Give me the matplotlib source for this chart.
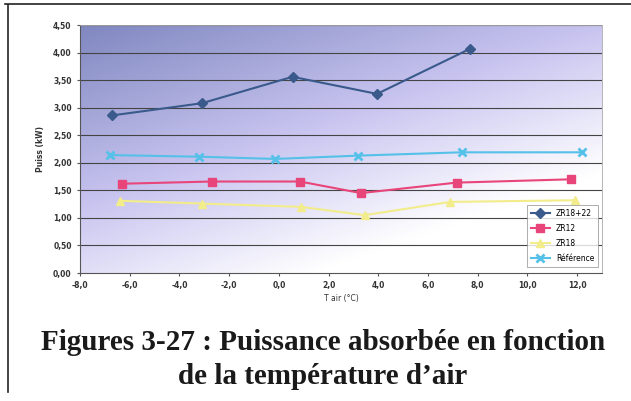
import matplotlib
matplotlib.use("Agg")
import matplotlib.pyplot as plt
import numpy as np
from matplotlib.ticker import FuncFormatter

# Data
zr1822_x = [-6.7, -3.1, 0.55, 3.95, 7.7]
zr1822_y = [2.86, 3.08, 3.56, 3.25, 4.07]
zr12_x = [-6.3, -2.7, 0.85, 3.3, 7.15, 11.75]
zr12_y = [1.62, 1.66, 1.66, 1.45, 1.64, 1.70]
zr18_x = [-6.4, -3.1, 0.9, 3.45, 6.9, 11.9]
zr18_y = [1.31, 1.26, 1.20, 1.05, 1.29, 1.32]
ref_x = [-6.8, -3.2, -0.15, 3.2, 7.35, 12.2]
ref_y = [2.14, 2.11, 2.07, 2.13, 2.19, 2.19]

series_names = ["ZR18+22", "ZR12", "ZR18", "Référence"]
x_ticks = [-8, -6, -4, -2, 0, 2, 4, 6, 8, 10, 12]
y_ticks = [0, 0.5, 1, 1.5, 2, 2.5, 3, 3.5, 4, 4.5]

fig = plt.figure(figsize=(6.31, 4.01), dpi=100)
ax = fig.add_axes([80/631, 1-273/401, (602-80)/631, (273-25)/401])

# gradient background
ny, nx = 100, 160
yy, xx = np.mgrid[0:1:ny*1j, 0:1:nx*1j]  # yy 0 at top
t = np.clip(0.55*xx + 0.75*yy, 0, 1.0)
c_dark = np.array([0x80, 0x88, 0xc0]) / 255
c_mid = np.array([0xc8, 0xc4, 0xf0]) / 255
c_light = np.array([1.0, 1.0, 1.0])
img = np.zeros((ny, nx, 3))
for i in range(3):
    img[..., i] = np.interp(t, [0, 0.55, 1.0], [c_dark[i], c_mid[i], c_light[i]])
ax.imshow(img, extent=[-8, 13, 0, 4.5], aspect='auto', zorder=0, origin='upper')

ax.set_xlim(-8, 13)
ax.set_ylim(0, 4.5)
for yv in y_ticks[1:]:
    ax.axhline(yv, color='#444444', lw=0.8, zorder=1)

ax.plot(zr1822_x, zr1822_y, color='#3a5a8c', marker='D', ms=5, lw=1.5, label=series_names[0], zorder=3)
ax.plot(zr12_x, zr12_y, color='#e8457a', marker='s', ms=6, lw=1.5, label=series_names[1], zorder=3)
ax.plot(zr18_x, zr18_y, color='#f2ec8a', marker='^', ms=6, lw=1.5, label=series_names[2], zorder=3)
ax.plot(ref_x, ref_y, color='#55c0e8', marker='x', ms=6, mew=2, lw=1.5, label=series_names[3], zorder=3)

ax.set_xticks(x_ticks)
ax.set_yticks(y_ticks)
ax.xaxis.set_major_formatter(FuncFormatter(lambda v, p: f"{v:.1f}".replace('.', ',')))
ax.yaxis.set_major_formatter(FuncFormatter(lambda v, p: f"{v:.2f}".replace('.', ',')))
ax.tick_params(labelsize=5.5, length=2, color='#555555', pad=4)
for lbl in ax.get_xticklabels() + ax.get_yticklabels():
    lbl.set_fontweight('bold')
    lbl.set_color('#333333')
for s in ['top', 'right']:
    ax.spines[s].set_color('#aaaaaa')
    ax.spines[s].set_linewidth(0.6)
for s in ['left', 'bottom']:
    ax.spines[s].set_color('#555555')
    ax.spines[s].set_linewidth(0.8)

ax.set_xlabel("T air (°C)", fontsize=5.5, color='#333333', labelpad=3)
ax.set_ylabel("Puiss (kW)", fontsize=5.5, color='#333333', fontweight='bold', labelpad=6)

leg = ax.legend(loc='lower right', bbox_to_anchor=(1.0, 0.01), fontsize=5.5, frameon=True,
                fancybox=False, edgecolor='#888888', handlelength=2.5, borderpad=0.5,
                labelspacing=0.8)
leg.get_frame().set_facecolor('white')
leg.get_frame().set_linewidth(0.6)

# frame lines of the scanned page
fig.add_artist(plt.Line2D([8/631, 8/631], [1-5/401, 1-392/401], color='#222222', lw=1.2))
fig.add_artist(plt.Line2D([5/631, 1.0], [1-4/401, 1-4/401], color='#222222', lw=1.2))

fig.text(323/631, 1-342/401, "Figures 3-27 : Puissance absorbée en fonction", ha='center', va='center',
         family='Liberation Serif', fontweight='bold', fontsize=21, color='#1a1a1a')
fig.text(323/631, 1-376/401, "de la température d\u2019air", ha='center', va='center',
         family='Liberation Serif', fontweight='bold', fontsize=21, color='#1a1a1a')

fig.savefig("out.png", dpi=100)
